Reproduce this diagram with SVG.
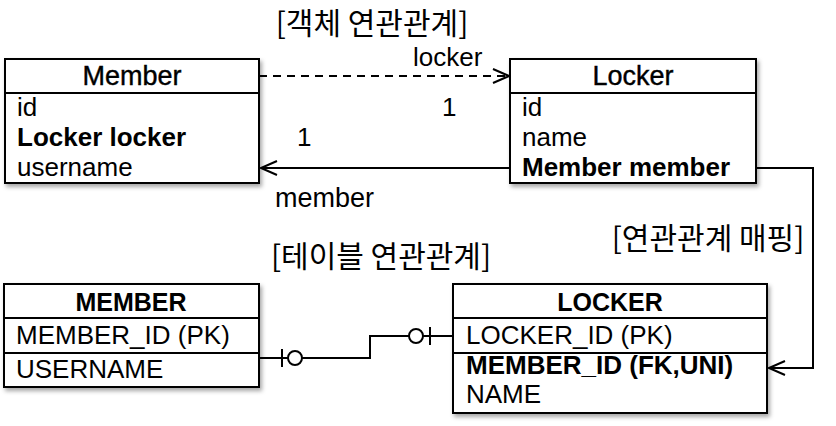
<svg xmlns="http://www.w3.org/2000/svg" width="836" height="426" viewBox="0 0 836 426">
<defs>
<filter id="sh" x="-10%" y="-10%" width="120%" height="130%">
<feDropShadow dx="2" dy="3" stdDeviation="2" flood-color="#000" flood-opacity="0.35"/>
</filter>
<marker id="open" markerUnits="userSpaceOnUse" markerWidth="20" markerHeight="20" viewBox="0 0 20 20" refX="18" refY="10" orient="auto">
<path d="M2 3 L18 10 L2 17" fill="none" stroke="#000" stroke-width="2"/>
</marker>
</defs>
<style>
.box{fill:#fff;stroke:#000;stroke-width:2}
.ln{stroke:#000;stroke-width:2;fill:none}
text{font-family:"Liberation Sans","Noto Sans CJK KR",sans-serif;font-size:26px;fill:#000}
.b{font-weight:bold}
.h{text-anchor:middle}
.t{font-size:27px;stroke:#000;stroke-width:0.4}
.tb{font-size:25px}
.kr{font-family:"Noto Sans CJK KR","Liberation Sans",sans-serif;font-size:30px}
</style>
<rect width="836" height="426" fill="#fff"/>

<g id="Member">
<rect class="box" x="5" y="59" width="254" height="124" filter="url(#sh)"/>
<line class="ln" x1="5" y1="93" x2="259" y2="93"/>
<text class="h t" x="132" y="85">Member</text>
<text x="17" y="116">id</text>
<text class="b" x="17" y="146">Locker locker</text>
<text x="17" y="176">username</text>
</g>

<g id="Locker">
<rect class="box" x="510" y="59" width="246" height="124" filter="url(#sh)"/>
<line class="ln" x1="510" y1="93" x2="756" y2="93"/>
<text class="h t" x="633" y="85">Locker</text>
<text x="522" y="116">id</text>
<text x="522" y="146">name</text>
<text class="b" x="522" y="176">Member member</text>
</g>

<g id="MEMBER">
<rect class="box" x="4" y="284" width="255" height="103" filter="url(#sh)"/>
<line class="ln" x1="4" y1="318" x2="259" y2="318"/>
<line class="ln" x1="4" y1="353" x2="259" y2="353"/>
<text class="h b tb" x="131" y="311">MEMBER</text>
<text x="16" y="344">MEMBER_ID (PK)</text>
<text x="16" y="378">USERNAME</text>
</g>

<g id="LOCKER">
<rect class="box" x="453" y="284" width="314" height="129" filter="url(#sh)"/>
<line class="ln" x1="453" y1="318" x2="767" y2="318"/>
<line class="ln" x1="453" y1="353" x2="767" y2="353"/>
<text class="h b tb" x="610" y="311">LOCKER</text>
<text x="466" y="344">LOCKER_ID (PK)</text>
<text class="b" x="466" y="374">MEMBER_ID (FK,UNI)</text>
<text x="466" y="403">NAME</text>
</g>

<g id="connectors">
<line class="ln" x1="259" y1="76" x2="509" y2="76" stroke-dasharray="8 6" marker-end="url(#open)"/>
<line class="ln" x1="510" y1="168" x2="261" y2="168" marker-end="url(#open)"/>
<polyline class="ln" points="756,168 813,168 813,368 769,368" marker-end="url(#open)"/>
<polyline class="ln" points="259,358 370,358 370,336 453,336"/>
<line class="ln" x1="282" y1="349" x2="282" y2="367"/>
<circle cx="295" cy="358" r="7" fill="#fff" stroke="#000" stroke-width="2"/>
<circle cx="416" cy="336" r="7" fill="#fff" stroke="#000" stroke-width="2"/>
<line class="ln" x1="430" y1="327" x2="430" y2="345"/>
</g>

<g id="labels">
<text class="kr h" x="372" y="34">[객체 연관관계]</text>
<text x="413" y="66">locker</text>
<text x="442" y="116">1</text>
<text x="297" y="146">1</text>
<text x="275" y="207" style="font-size:27px">member</text>
<text class="kr h" x="381" y="267">[테이블 연관관계]</text>
<text class="kr h" x="708" y="249">[연관관계 매핑]</text>
</g>
</svg>
